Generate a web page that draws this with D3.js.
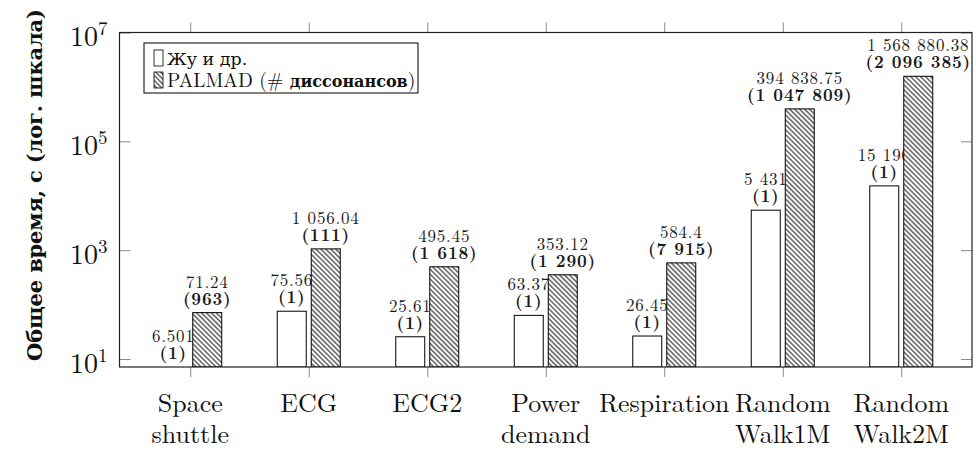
<!DOCTYPE html>
<html>
<head>
<meta charset="utf-8">
<script src="https://cdn.jsdelivr.net/npm/d3@7"></script>
<style>
  html, body { margin: 0; padding: 0; background: #fff; }
  svg { display: block; }
</style>
</head>
<body>
<svg id="chart" width="976" height="450"></svg>
<script>
// Datasets on the x axis (each label may wrap onto two lines)
const categories = ["Space shuttle", "ECG", "ECG2", "Power demand", "Respiration", "Random Walk1M", "Random Walk2M"];
const categoryLines = [["Space", "shuttle"], ["ECG"], ["ECG2"], ["Power", "demand"], ["Respiration"], ["Random", "Walk1M"], ["Random", "Walk2M"]];

// Total run time, seconds
const zhuTimes = [6.501, 75.56, 25.61, 63.37, 26.45, 5431, 15190];
const palmadTimes = [71.24, 1056.04, 495.45, 353.12, 584.4, 394838.75, 1568880.38];

// Number of discords found
const zhuCounts = [1, 1, 1, 1, 1, 1, 1];
const palmadCounts = [963, 111, 1618, 1290, 7915, 1047809, 2096385];

// Log-axis ticks
const yTickValues = [10, 1e3, 1e5, 1e7];

const seriesNames = ["Жу и др.", "PALMAD"];

// ---------------------------------------------------------------------------
const frame = { left: 119.5, right: 972, top: 32.5, bottom: 367 };
const yMin = 7.13, yMax = 1e7;
const barW = 29, barOffset = 17;
const serif = "'Latin Modern Roman'";   // Latin text, digits
const cyrSerif = "'DejaVu Serif'";      // Cyrillic text

const svg = d3.select("#chart");

const x = d3.scalePoint().domain(categories).range([frame.left, frame.right]).padding(0.597);
const y = d3.scaleLog().domain([yMin, yMax]).range([frame.bottom, frame.top]);

// thousands grouped by spaces, keeping the decimals as written
function fmt(v) {
  const parts = String(v).split(".");
  const intPart = parts[0].replace(/\B(?=(\d{3})+(?!\d))/g, " ");
  return parts.length > 1 ? intPart + "." + parts[1] : intPart;
}

const defs = svg.append("defs");
const pat = defs.append("pattern")
  .attr("id", "nwlines")
  .attr("patternUnits", "userSpaceOnUse")
  .attr("width", 4).attr("height", 3.5)
  .attr("patternTransform", "rotate(45)");
pat.append("rect").attr("width", 4).attr("height", 3.5).attr("fill", "#fff");
pat.append("line").attr("x1", -1).attr("x2", 5).attr("y1", 1.75).attr("y2", 1.75)
  .attr("stroke", "#000").attr("stroke-width", 0.95);

defs.append("clipPath").attr("id", "plotClip")
  .append("rect")
  .attr("x", frame.left).attr("y", frame.top)
  .attr("width", frame.right - frame.left).attr("height", frame.bottom - frame.top);

// ---- axes (ticks only; the frame is drawn separately)
const tickColor = "#8a8a8a";
function styleAxis(g) {
  g.select(".domain").remove();
  g.selectAll(".tick line").attr("stroke", tickColor).attr("stroke-width", 1);
}

svg.append("g").attr("transform", `translate(0,${frame.bottom})`)
  .call(d3.axisBottom(x).tickSize(10).tickFormat(""))
  .call(styleAxis);
svg.append("g").attr("transform", `translate(0,${frame.top})`)
  .call(d3.axisTop(x).tickSize(10).tickFormat(""))
  .call(styleAxis);

const yLeft = svg.append("g").attr("transform", `translate(${frame.left},0)`)
  .call(d3.axisLeft(y).tickValues(yTickValues).tickSize(-11).tickPadding(12).tickFormat(""))
  .call(styleAxis);
svg.append("g").attr("transform", `translate(${frame.right},0)`)
  .call(d3.axisRight(y).tickValues(yTickValues).tickSize(-11).tickFormat(""))
  .call(styleAxis);

yLeft.attr("font-family", null);
yLeft.selectAll(".tick text").each(function (d) {
  const t = d3.select(this)
    .attr("dy", null).attr("y", 13)
    .attr("fill", "#111")
    .style("font-family", serif).style("font-size", "28px")
    .attr("text-anchor", "end");
  t.text(null);
  t.append("tspan").text("10");
  t.append("tspan").attr("dy", -11).style("font-size", "19px").text(Math.round(Math.log10(d)));
});

// ---- x category labels
svg.append("g").selectAll("text")
  .data(categories)
  .join("text")
  .attr("x", d => x(d))
  .attr("y", 412)
  .attr("text-anchor", "middle")
  .attr("fill", "#111")
  .style("font-family", serif).style("font-size", "26px")
  .each(function (d, i) {
    const t = d3.select(this);
    categoryLines[i].forEach((line, k) => {
      t.append("tspan").attr("x", x(d)).attr("dy", k === 0 ? 0 : 31).text(line);
    });
  });

// ---- bars + value labels, one series at a time (labels of a series sit under the next series' bars)
function drawSeries(times, counts, offset, fill) {
  const data = categories.map((c, i) => ({ c, v: times[i], n: counts[i] }));
  const top = d => y(Math.max(d.v, yMin));
  svg.append("g").attr("clip-path", "url(#plotClip)")
    .selectAll("rect")
    .data(data).join("rect")
    .attr("x", d => x(d.c) + offset - barW / 2)
    .attr("y", d => top(d))
    .attr("width", barW)
    .attr("height", d => frame.bottom - top(d))
    .attr("fill", fill)
    .attr("stroke", "#000").attr("stroke-width", 1);
  const lg = svg.append("g").selectAll("text")
    .data(data).join("text")
    .attr("text-anchor", "middle")
    .attr("fill", "#1a1a1a")
    .style("font-family", serif).style("font-size", "17px")
    .style("letter-spacing", "0.8px");
  lg.append("tspan")
    .attr("x", d => x(d.c) + offset)
    .attr("y", d => top(d) - 25)
    .text(d => fmt(d.v));
  lg.append("tspan")
    .attr("x", d => x(d.c) + offset)
    .attr("y", d => top(d) - 8)
    .style("font-weight", "bold")
    .text(d => "(" + fmt(d.n) + ")");
}

drawSeries(zhuTimes, zhuCounts, -barOffset, "#fff");
drawSeries(palmadTimes, palmadCounts, barOffset, "url(#nwlines)");

// ---- frame
svg.append("rect")
  .attr("x", frame.left).attr("y", frame.top)
  .attr("width", frame.right - frame.left).attr("height", frame.bottom - frame.top)
  .attr("fill", "none").attr("stroke", "#222").attr("stroke-width", 1.2);

// ---- legend
const legend = svg.append("g").attr("transform", "translate(144,43)");
legend.append("rect").attr("x", 0).attr("y", 0).attr("width", 274).attr("height", 50)
  .attr("fill", "#fff").attr("stroke", "#000").attr("stroke-width", 1);
const legendRows = [
  { fill: "#fff", parts: [[seriesNames[0], "normal", cyrSerif, 17.5]] },
  { fill: "url(#nwlines)", parts: [[seriesNames[1] + " (", "normal", serif, 19.5], ["# ", "normal", serif, 19.5], ["диссонансов", "bold", cyrSerif, 16], [")", "normal", serif, 19.5]] }
];
legendRows.forEach((r, i) => {
  const cy = 15 + i * 22;
  legend.append("rect").attr("x", 10).attr("y", cy - 8).attr("width", 9).attr("height", 16)
    .attr("fill", r.fill).attr("stroke", "#000").attr("stroke-width", 0.8);
  const t = legend.append("text").attr("x", 23).attr("y", cy + 7)
    .attr("fill", "#111");
  r.parts.forEach(p => t.append("tspan")
    .style("font-family", p[2]).style("font-weight", p[1]).style("font-size", p[3] + "px").text(p[0]));
});

// ---- y axis title
svg.append("text")
  .attr("transform", "translate(42,185) rotate(-90)")
  .attr("text-anchor", "middle")
  .attr("fill", "#111")
  .attr("textLength", 352).attr("lengthAdjust", "spacing")
  .style("font-family", cyrSerif).style("font-size", "21px").style("font-weight", "bold")
  .text("Общее время, с (лог. шкала)");
</script>
</body>
</html>
